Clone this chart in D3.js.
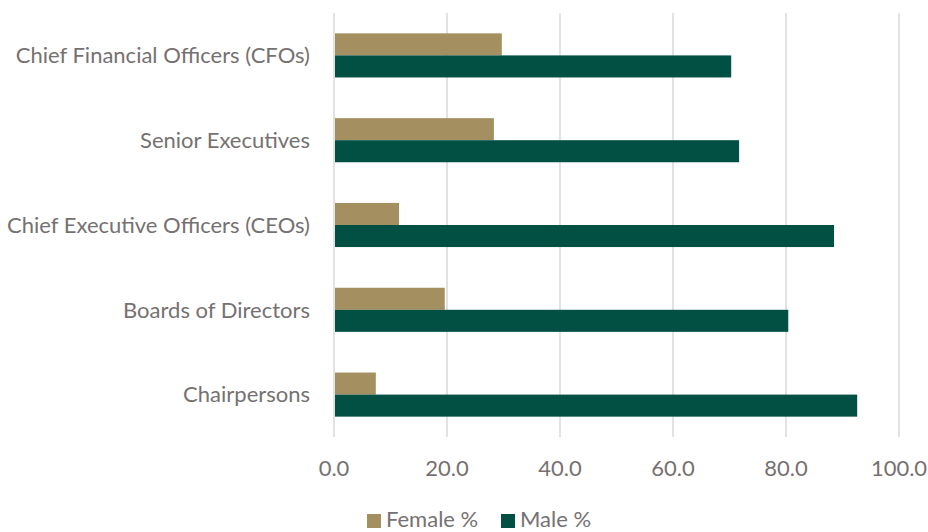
<!DOCTYPE html>
<html>
<head>
<meta charset="utf-8">
<script src="https://cdn.jsdelivr.net/npm/d3@7"></script>
<style>
  body { margin: 0; background: #fff; }
  text { font-family: Lato, "Open Sans", sans-serif; fill: #767171; }
</style>
</head>
<body>
<svg class="chart"></svg>
<script>
// Data, top to bottom as drawn
const categories = [
  "Chief Financial Officers (CFOs)",
  "Senior Executives",
  "Chief Executive Officers (CEOs)",
  "Boards of Directors",
  "Chairpersons"
];
const femaleValues = [29.7, 28.3, 11.5, 19.6, 7.4];
const maleValues = [70.3, 71.7, 88.5, 80.4, 92.6];
const seriesNames = ["Female %", "Male %"];
const seriesColors = ["#a38f60", "#024f44"];
const tickValues = [0, 20, 40, 60, 80, 100];

const totalWidth = 928, totalHeight = 532;
const margin = { top: 13, right: 30, bottom: 95, left: 334 },
  width = 899 - margin.left,
  height = 437 - margin.top;

const svg = d3.select(".chart")
  .attr("width", totalWidth)
  .attr("height", totalHeight);

const g = svg.append("g")
  .attr("transform", "translate(" + margin.left + "," + margin.top + ")");

// Scales
const x = d3.scaleLinear().domain([0, 100]).range([0, width]);
const y = d3.scaleBand().domain(categories).range([0, height]).paddingInner(0.48).paddingOuter(0.24);
const ySub = d3.scaleBand().domain(seriesNames).range([0, y.bandwidth()]);

// Gridlines
g.selectAll(".grid")
  .data(tickValues)
  .enter()
  .append("line")
  .attr("x1", d => x(d))
  .attr("x2", d => x(d))
  .attr("y1", 0)
  .attr("y2", height)
  .attr("stroke", "#d9d9d9")
  .attr("stroke-width", 1.5);

// Bars
const rows = categories.map((c, i) => ({ cat: c, vals: [femaleValues[i], maleValues[i]] }));
const groups = g.selectAll(".row")
  .data(rows)
  .enter()
  .append("g")
  .attr("transform", d => "translate(0," + y(d.cat) + ")");

groups.selectAll("rect")
  .data(d => d.vals.map((v, j) => ({ name: seriesNames[j], value: v, color: seriesColors[j] })))
  .enter()
  .append("rect")
  .attr("x", x(0) + 1)
  .attr("y", d => ySub(d.name))
  .attr("width", d => x(d.value) - x(0) - 1)
  .attr("height", ySub.bandwidth())
  .attr("fill", d => d.color);

// Category labels
g.selectAll(".cat")
  .data(categories)
  .enter()
  .append("text")
  .attr("x", -24)
  .attr("y", d => y(d) + y.bandwidth() / 2)
  .attr("dy", "0.35em")
  .attr("text-anchor", "end")
  .style("font-size", "22px")
  .text(d => d);

// X tick labels
g.selectAll(".tick-label")
  .data(tickValues)
  .enter()
  .append("text")
  .attr("x", d => x(d))
  .attr("y", height + 31)
  .attr("dy", "0.35em")
  .attr("text-anchor", "middle")
  .style("font-size", "22px")
  .text(d => d3.format(".1f")(d));

// Legend
const legend = svg.append("g").attr("transform", "translate(367,527)");
const legendOffsets = [0, 134];
seriesNames.forEach(function (name, i) {
  legend.append("rect")
    .attr("x", legendOffsets[i])
    .attr("y", -13)
    .attr("width", 14)
    .attr("height", 14)
    .attr("fill", seriesColors[i]);
  legend.append("text")
    .attr("x", legendOffsets[i] + 19)
    .attr("y", 0)
    .style("font-size", "22px")
    .text(name);
});
</script>
</body>
</html>
